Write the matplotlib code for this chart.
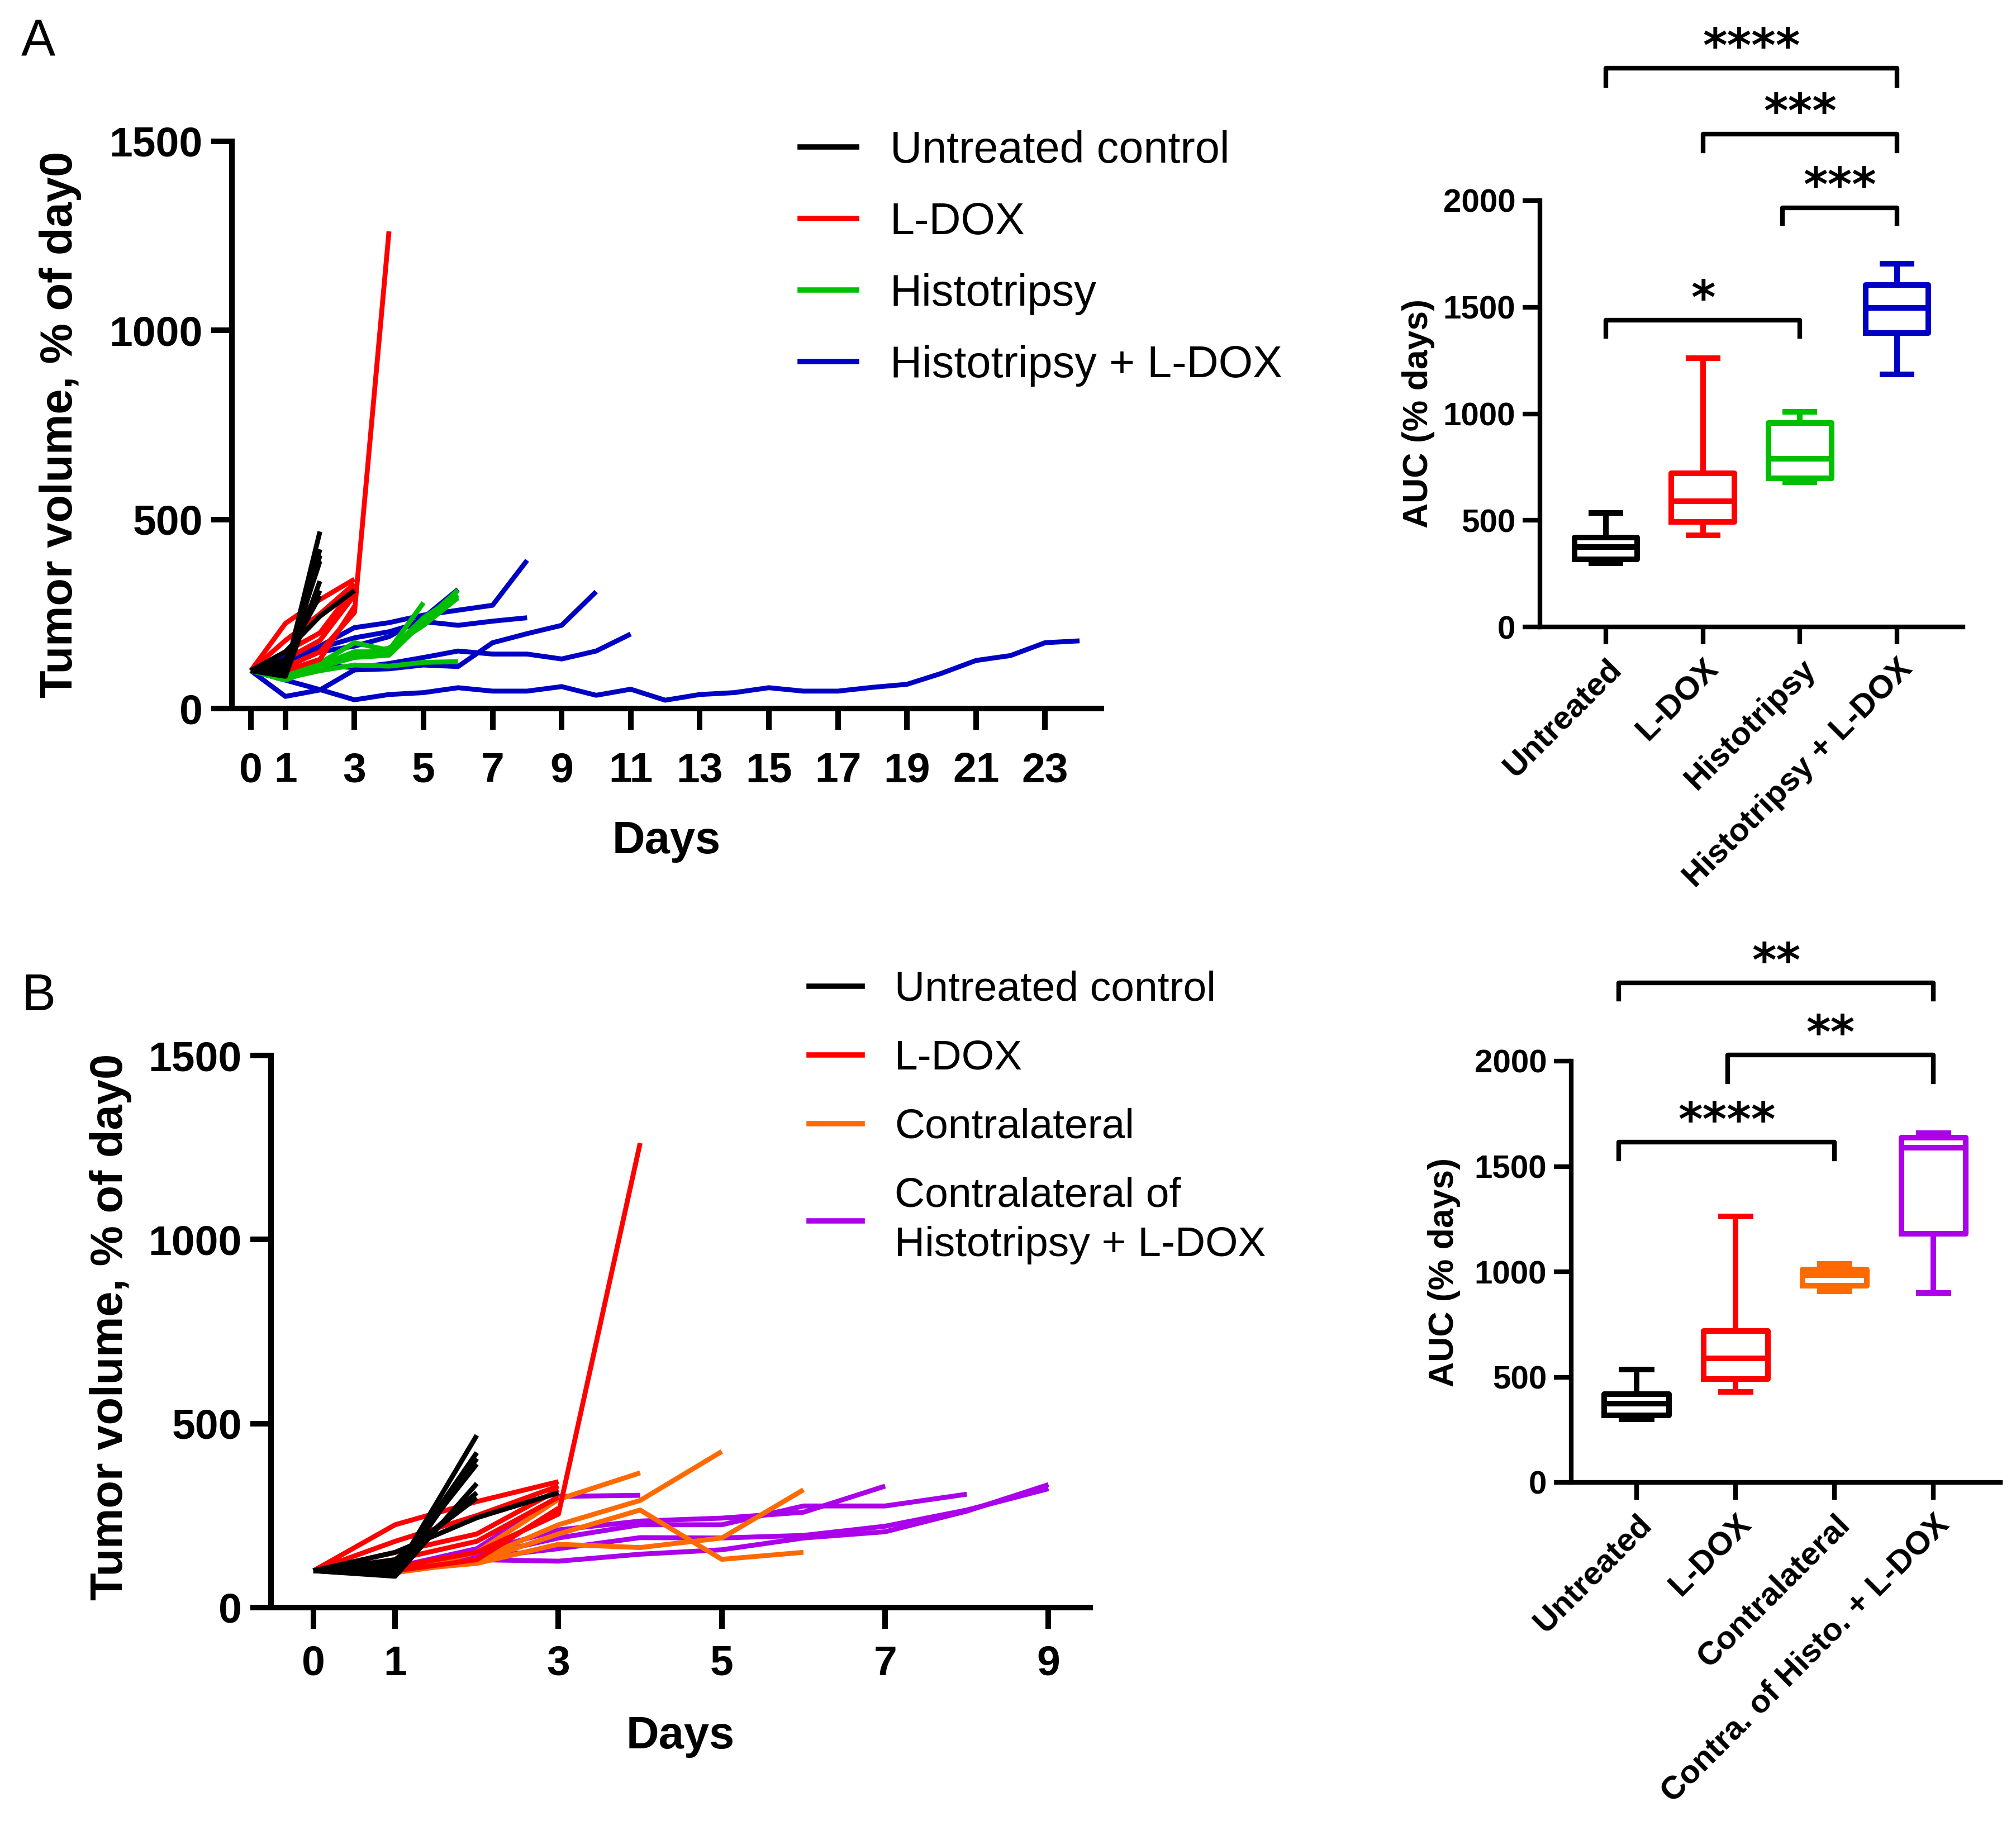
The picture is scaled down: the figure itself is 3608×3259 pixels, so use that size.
import matplotlib
matplotlib.use('Agg')
import matplotlib.pyplot as plt
from matplotlib.lines import Line2D

plt.rcParams['font.family'] = ['Liberation Sans', 'DejaVu Sans']
plt.rcParams['font.weight'] = 'bold'

W, H = 3608, 3259

# ---------------- data: tumour volume (% of day 0), one list per mouse, day = index
untreated_lines = [
    [100, 95, 468],
    [100, 100, 421],
    [100, 110, 390],
    [100, 88, 405],
    [100, 85, 337],
    [100, 120, 312],
    [100, 130, 298],
    [100, 150, 244, 312],
]
ldox_lines = [
    [100, 225, 288, 342],
    [100, 180, 250, 330],
    [100, 150, 200, 320],
    [100, 130, 180, 300],
    [100, 110, 150, 254, 1262],
    [100, 100, 130, 270],
]
histo_lines = [
    [100, 80, 120, 174, 154, 280],
    [100, 75, 110, 135, 141, 230, 313],
    [100, 85, 115, 150, 150, 240, 300],
    [100, 80, 100, 115, 112, 122, 124],
    [100, 90, 120, 140, 160, 220, 293],
]
combo_lines = [
    [100, 120, 165, 214, 227, 247, 260, 273, 392],
    [100, 140, 160, 187, 203, 230, 220, 231, 240],
    [100, 32, 49, 102, 105, 115, 111, 174, 198, 220, 309],
    [100, 90, 115, 108, 119, 135, 152, 144, 144, 131, 152, 197],
    [100, 110, 150, 165, 190, 240, 315],
    [100, 75, 50, 23, 37, 42, 55, 46, 46, 58, 35, 51, 22, 37, 42, 55,
     46, 46, 56, 64, 93, 127, 140, 174, 179],
]
contra_lines = [
    [100, 95, 150, 294, 366],
    [100, 100, 130, 225, 291, 424],
    [100, 95, 125, 200, 265, 131, 150],
    [100, 100, 120, 172, 163, 189, 320],
]
contra_combo_lines = [
    [100, 110, 160, 302, 305],
    [100, 105, 150, 211, 235, 243, 259, 330],
    [100, 100, 140, 189, 225, 225, 276, 276, 308],
    [100, 95, 130, 126, 145, 157, 189, 206, 262, 334],
    [100, 100, 135, 160, 190, 189, 196, 221, 265, 323],
]

# ---------------- data: AUC box plots (min, q1, median, q3, max)
auc_a_names = ['Untreated', 'L-DOX', 'Histotripsy', 'Histotripsy + L-DOX']
auc_a_min = [300, 430, 680, 1185]
auc_a_q1 = [318, 492, 697, 1378]
auc_a_med = [375, 590, 790, 1498]
auc_a_q3 = [420, 720, 958, 1603]
auc_a_max = [535, 1262, 1008, 1705]

auc_b_names = ['Untreated', 'L-DOX', 'Contralateral', 'Contra. of Histo. + L-DOX']
auc_b_min = [300, 430, 908, 900]
auc_b_q1 = [318, 492, 935, 1180]
auc_b_med = [375, 590, 985, 1590]
auc_b_q3 = [420, 720, 1010, 1637]
auc_b_max = [535, 1262, 1038, 1657]

# significance brackets: (from, to, bracket y, leg end y, label)
sig_a = [(0, 3, 2621, 2540, '****'), (1, 3, 2312, 2233, '***'),
         (1.82, 3, 1966, 1892, '***'), (0, 2, 1439, 1363, '*')]
sig_b = [(-0.18, 3, 2371, 2294, '**'), (0.92, 3, 2029, 1902, '**'),
         (-0.18, 2, 1615, 1536, '****')]

BLACK, RED, GREEN, BLUE = '#000000', '#FF0000', '#00BF00', '#0000C4'
ORANGE, PURPLE = '#FF6A00', '#AA00EA'


def rect(x0, y0, x1, y1):
    return [x0 / W, 1 - y1 / H, (x1 - x0) / W, (y1 - y0) / H]


def line_panel(ax, groups, xlim, xticks, xpad):
    for lines, color in reversed(groups):
        for vals in lines:
            ax.plot(range(len(vals)), vals, color=color, lw=2.1,
                    solid_capstyle='butt')
    ax.set_xlim(*xlim)
    ax.set_ylim(0, 1500)
    ax.set_xticks(xticks)
    ax.set_yticks([0, 500, 1000, 1500])
    for s in ['top', 'right']:
        ax.spines[s].set_visible(False)
    for s in ['left', 'bottom']:
        ax.spines[s].set_linewidth(2.4)
    ax.tick_params(width=2.4, length=9, labelsize=18)
    ax.tick_params(axis='x', pad=xpad)
    ax.tick_params(axis='y', pad=3.5)
    ax.text(0.5, -0.255, 'Days', transform=ax.transAxes, ha='center',
            va='baseline', fontsize=19.5, fontweight='bold')


def box_panel(ax, names, mins, q1s, meds, q3s, maxs, colors, xlim, sigs):
    stats = []
    for i in range(len(names)):
        stats.append(dict(med=meds[i], q1=q1s[i], q3=q3s[i],
                          whislo=mins[i], whishi=maxs[i], fliers=[]))
    art = ax.bxp(stats, positions=range(len(names)), widths=0.65,
                 capwidths=0.3, showfliers=False)
    for i, c in enumerate(colors):
        art['boxes'][i].set(color=c, linewidth=2.4)
        art['medians'][i].set(color=c, linewidth=2.4)
        for k in (2 * i, 2 * i + 1):
            art['whiskers'][k].set(color=c, linewidth=2.4)
            art['caps'][k].set(color=c, linewidth=2.4)
    ax.set_xlim(*xlim)
    ax.set_ylim(0, 2000)
    ax.set_yticks([0, 500, 1000, 1500, 2000])
    ax.set_xticks(range(len(names)))
    ax.set_xticklabels(names, rotation=45, ha='right', rotation_mode='anchor',
                       fontsize=14, fontweight='bold')
    for s in ['top', 'right']:
        ax.spines[s].set_visible(False)
    for s in ['left', 'bottom']:
        ax.spines[s].set_linewidth(2.0)
    ax.tick_params(width=2.0, length=7.5)
    ax.tick_params(axis='y', labelsize=14, pad=3)
    ax.tick_params(axis='x', pad=4)
    for x0, x1, ytop, yleg, label in sigs:
        ax.plot([x0, x0, x1, x1], [yleg, ytop, ytop, yleg], color='k',
                lw=2.0, clip_on=False)
        ax.annotate(label, ((x0 + x1) / 2, ytop), xytext=(0, 3),
                    textcoords='offset points', ha='center', va='baseline',
                    fontsize=20, fontweight='bold', family=['DejaVu Sans'],
                    annotation_clip=False)


fig = plt.figure(figsize=(W / 300, H / 300), dpi=300)

# ---------------- panel A
ax1 = fig.add_axes(rect(415, 253, 1971, 1268))
line_panel(ax1, [(untreated_lines, BLACK), (ldox_lines, RED),
                 (histo_lines, GREEN), (combo_lines, BLUE)],
           (-0.55, 24.63), [0, 1] + list(range(3, 24, 2)), 9.5)

ax2 = fig.add_axes(rect(2756, 359, 3513, 1122))
box_panel(ax2, auc_a_names, auc_a_min, auc_a_q1, auc_a_med, auc_a_q3,
          auc_a_max, [BLACK, RED, GREEN, BLUE], (-0.68, 3.68), sig_a)

# ---------------- panel B
ax3 = fig.add_axes(rect(485, 1889, 1951, 2877))
line_panel(ax3, [(untreated_lines, BLACK), (ldox_lines, RED),
                 (contra_lines, ORANGE), (contra_combo_lines, PURPLE)],
           (-0.52, 9.51), [0, 1, 3, 5, 7, 9], 7)

ax4 = fig.add_axes(rect(2812, 1899, 3580, 2653))
box_panel(ax4, auc_b_names, auc_b_min, auc_b_q1, auc_b_med, auc_b_q3,
          auc_b_max, [BLACK, RED, ORANGE, PURPLE], (-0.66, 3.675), sig_b)

# ---------------- legends
leg_a_labels = ['Untreated control', 'L-DOX', 'Histotripsy', 'Histotripsy + L-DOX']
leg_b_labels = ['Untreated control', 'L-DOX', 'Contralateral',
                'Contralateral of\nHistotripsy + L-DOX']
h_a = [Line2D([], [], color=c, lw=2.3) for c in [BLACK, RED, GREEN, BLUE]]
h_b = [Line2D([], [], color=c, lw=2.3) for c in [BLACK, RED, ORANGE, PURPLE]]
fig.legend(h_a, leg_a_labels, loc='upper left',
           bbox_to_anchor=(1432 / W, 1 - 233 / H), frameon=False,
           borderpad=0, borderaxespad=0, handlelength=1.27,
           handletextpad=0.76, labelspacing=0.67,
           prop={'family': 'Liberation Sans', 'weight': 'normal', 'size': 19})
leg_b = fig.legend(h_b, leg_b_labels, loc='upper left',
                   bbox_to_anchor=(1448 / W, 1 - 1737 / H), frameon=False,
                   borderpad=0, borderaxespad=0, handlelength=1.27,
                   handletextpad=0.77, labelspacing=0.72,
                   prop={'family': 'Liberation Sans', 'weight': 'normal',
                         'size': 18})
leg_b.get_texts()[3].set_linespacing(1.35)

# ---------------- axis titles and panel letters
fig.text(108 / W, 1 - 760 / H, 'Tumor volume, % of day0', rotation=90,
         ha='center', va='center', fontsize=19.5, fontweight='bold')
fig.text(198 / W, 1 - 2375 / H, 'Tumor volume, % of day0', rotation=90,
         ha='center', va='center', fontsize=19.5, fontweight='bold')
fig.text(2538 / W, 1 - 740 / H, 'AUC (% days)', rotation=90,
         ha='center', va='center', fontsize=15, fontweight='bold')
fig.text(2584 / W, 1 - 2277 / H, 'AUC (% days)', rotation=90,
         ha='center', va='center', fontsize=15, fontweight='bold')
fig.text(38 / W, 1 - 100 / H, 'A', fontsize=22, fontweight='normal',
         va='baseline')
fig.text(38 / W, 1 - 1808 / H, 'B', fontsize=22, fontweight='normal',
         va='baseline')

fig.savefig('out.png', dpi=300, facecolor='white')
